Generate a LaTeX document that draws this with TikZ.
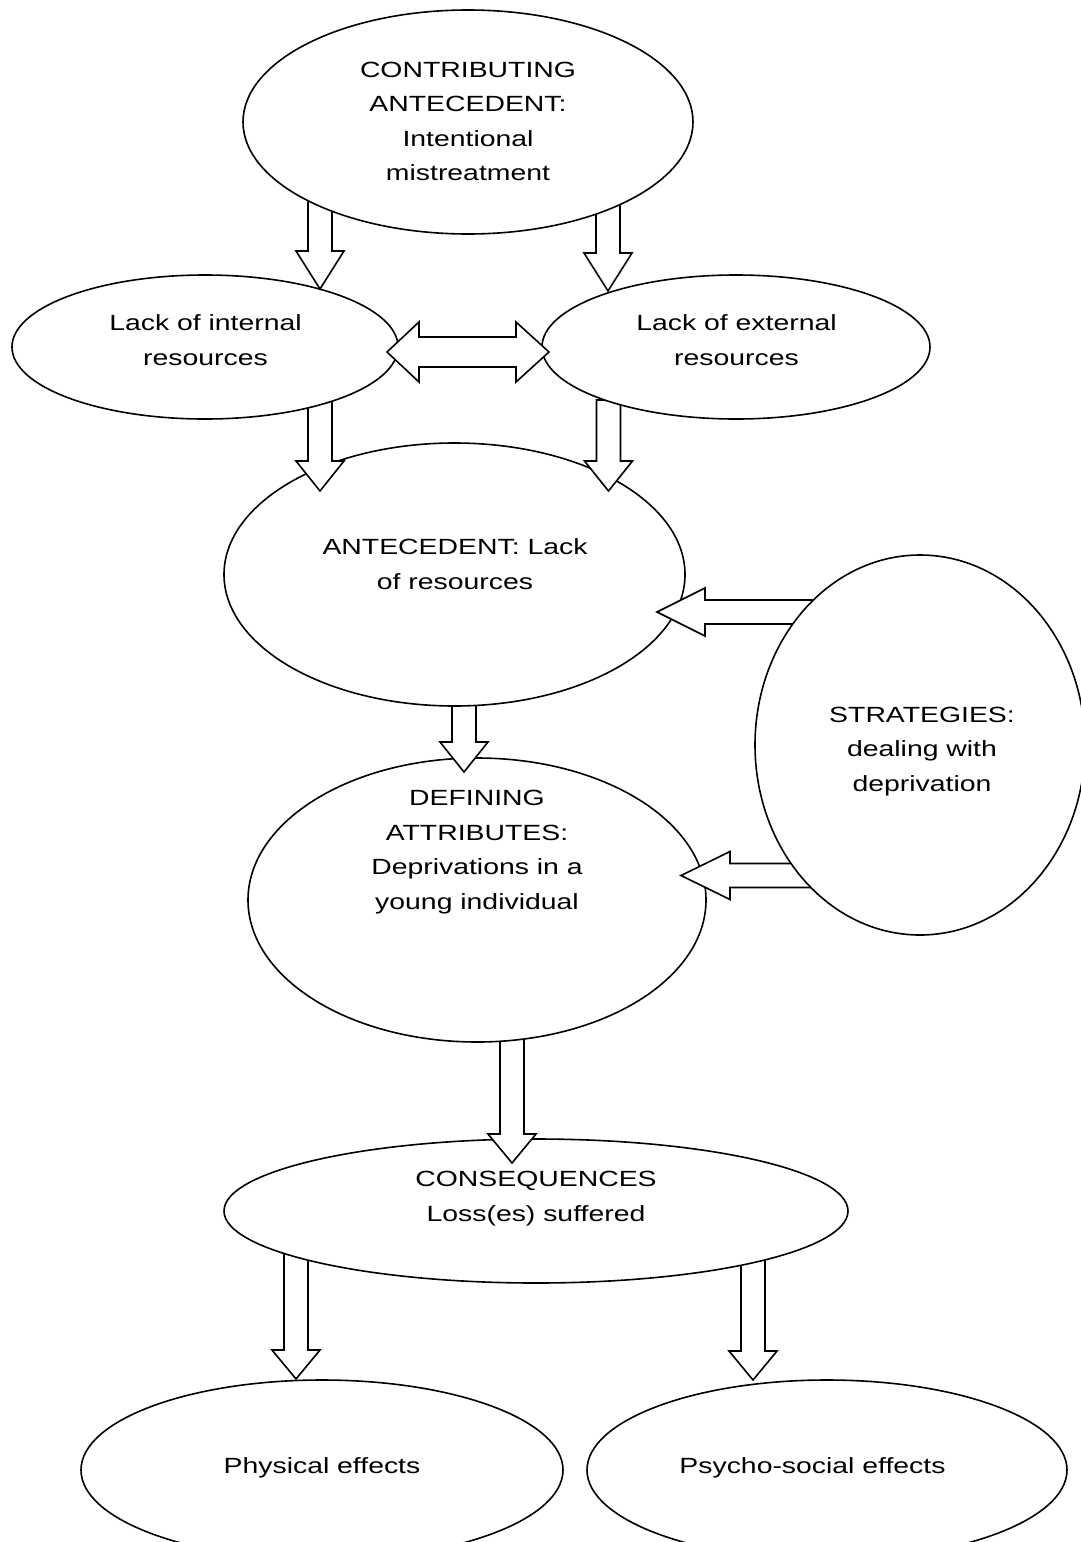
\documentclass[tikz,border=0pt]{standalone}
\usepackage{fontspec}
\setmainfont{Liberation Sans}[FakeStretch=1.29]
\usetikzlibrary{calc,shapes.geometric}

\pgfdeclarelayer{la}\pgfdeclarelayer{lb}\pgfdeclarelayer{lc}\pgfdeclarelayer{ld}
\pgfdeclarelayer{le}\pgfdeclarelayer{lf}\pgfdeclarelayer{lg}\pgfdeclarelayer{lh}
\pgfdeclarelayer{li}\pgfdeclarelayer{lj}\pgfdeclarelayer{lk}
\pgfsetlayers{la,lb,lc,ld,le,lf,lg,lh,li,lj,lk,main}

\tikzset{
  oval/.style={draw, ellipse, fill=white, line width=1.6pt, inner sep=0pt, outer sep=0pt},
  blk/.style={draw, fill=white, line width=1.6pt, line join=miter},
  % the base anchor of these multi-line labels sits on the last line
  lbl/.style={align=center, anchor=base, inner sep=0pt,
              font=\fontsize{22}{34.5}\selectfont}
}

% hollow block arrow pointing down: #1 tail point, #2 tip, #3 head length
\newcommand{\blkdown}[3]{%
  \draw[blk] let \p1=(#1), \p2=(#2) in
    (\x2-12pt,\y1) -- (\x2-12pt,\y2+#3) -- (\x2-24pt,\y2+#3) -- (\x2,\y2)
    -- (\x2+24pt,\y2+#3) -- (\x2+12pt,\y2+#3) -- (\x2+12pt,\y1) -- cycle;}
% hollow block arrow pointing left: #1 tail point, #2 tip, #3 head length
\newcommand{\blkleft}[3]{%
  \draw[blk] let \p1=(#1), \p2=(#2) in
    (\x1,\y2+12pt) -- (\x2+#3,\y2+12pt) -- (\x2+#3,\y2+24pt) -- (\x2,\y2)
    -- (\x2+#3,\y2-24pt) -- (\x2+#3,\y2-12pt) -- (\x1,\y2-12pt) -- cycle;}

\begin{document}
\begin{tikzpicture}[x=1pt,y=-1pt]
\useasboundingbox (0,0) rectangle (1081,1542);

% ellipses, each on its own level
\begin{pgfonlayer}{lk}
  \node[oval, minimum width=450pt, minimum height=224pt] (top) at (468,122) {};
\end{pgfonlayer}
\begin{pgfonlayer}{li}
  \node[oval, minimum width=386pt, minimum height=144pt] (int) at (205,347) {};
  \node[oval, minimum width=388pt, minimum height=144pt] (ext) at (736,347) {};
  \node[oval, minimum width=330pt, minimum height=380pt] (strat) at (920,745) {};
\end{pgfonlayer}
\begin{pgfonlayer}{lg}
  \node[oval, minimum width=461pt, minimum height=263pt] (ant) at (454.5,574.5) {};
\end{pgfonlayer}
\begin{pgfonlayer}{le}
  \node[oval, minimum width=458pt, minimum height=284pt] (def) at (477,900) {};
\end{pgfonlayer}
\begin{pgfonlayer}{lc}
  \node[oval, minimum width=624pt, minimum height=144pt] (cons) at (536,1211) {};
\end{pgfonlayer}
\begin{pgfonlayer}{la}
  \node[oval, minimum width=482pt, minimum height=180pt] (phys) at (322,1470) {};
  \node[oval, minimum width=480pt, minimum height=180pt] (psy) at (827,1470) {};
\end{pgfonlayer}

% connectors
\begin{pgfonlayer}{lj}
  \blkdown{$(top)+(-148,78)$}{$(int)+(115,-58)$}{38pt}
  \blkdown{$(top)+(140,78)$}{$(ext)+(-128,-56)$}{38pt}
  \draw[blk] let \p1=($(int)+(182,5)$), \p2=($(ext)+(-187,5)$) in
    (\x1,\y1) -- (\x1+32pt,\y1+30pt) -- (\x1+32pt,\y1+15pt) -- (\x2-33pt,\y1+15pt)
    -- (\x2-33pt,\y1+30pt) -- (\x2,\y2) -- (\x2-33pt,\y1-30pt) -- (\x2-33pt,\y1-15pt)
    -- (\x1+32pt,\y1-15pt) -- (\x1+32pt,\y1-30pt) -- cycle;
\end{pgfonlayer}
\begin{pgfonlayer}{lh}
  \blkdown{$(int)+(115,53)$}{$(ant)+(-134.5,-83.5)$}{30pt}
  \blkdown{$(ext)+(-127.5,53)$}{$(ant)+(154,-83.5)$}{30pt}
  \blkleft{$(strat)+(-90,-134)$}{$(ant)+(202.5,37.5)$}{48pt}
\end{pgfonlayer}
\begin{pgfonlayer}{lf}
  \blkdown{$(ant)+(9.5,120)$}{$(def)+(-13,-128)$}{30pt}
  \blkleft{$(strat)+(-90,130)$}{$(def)+(204,-24.5)$}{49pt}
\end{pgfonlayer}
\begin{pgfonlayer}{ld}
  \blkdown{$(def)+(35,135)$}{$(cons)+(-24,-48)$}{29pt}
\end{pgfonlayer}
\begin{pgfonlayer}{lb}
  \blkdown{$(cons)+(-240,39)$}{$(phys)+(-26,-91)$}{29pt}
  \blkdown{$(cons)+(217,39)$}{$(psy)+(-74,-90)$}{29pt}
\end{pgfonlayer}

% labels (positions give the baseline of the last line)
\node[lbl] (topt) at (468,180.5) {CONTRIBUTING\\ANTECEDENT:\\Intentional\\mistreatment};
\node[lbl] (intt) at (205.5,365) {Lack of internal\\resources};
\node[lbl] (extt) at (736.5,365) {Lack of external\\resources};
\node[lbl] (antt) at (455,589) {ANTECEDENT: Lack\\of resources};
\node[lbl] (stratt) at (922,791) {STRATEGIES:\\dealing with\\deprivation};
\node[lbl] (deft) at (477,909) {DEFINING\\ATTRIBUTES:\\Deprivations in a\\young individual};
\node[lbl] (const) at (536,1221) {CONSEQUENCES\\Loss(es) suffered};
\node[lbl] (physt) at (322,1473) {Physical effects};
\node[lbl] (psyt) at (812.5,1473) {Psycho-social effects};
\end{tikzpicture}
\end{document}
